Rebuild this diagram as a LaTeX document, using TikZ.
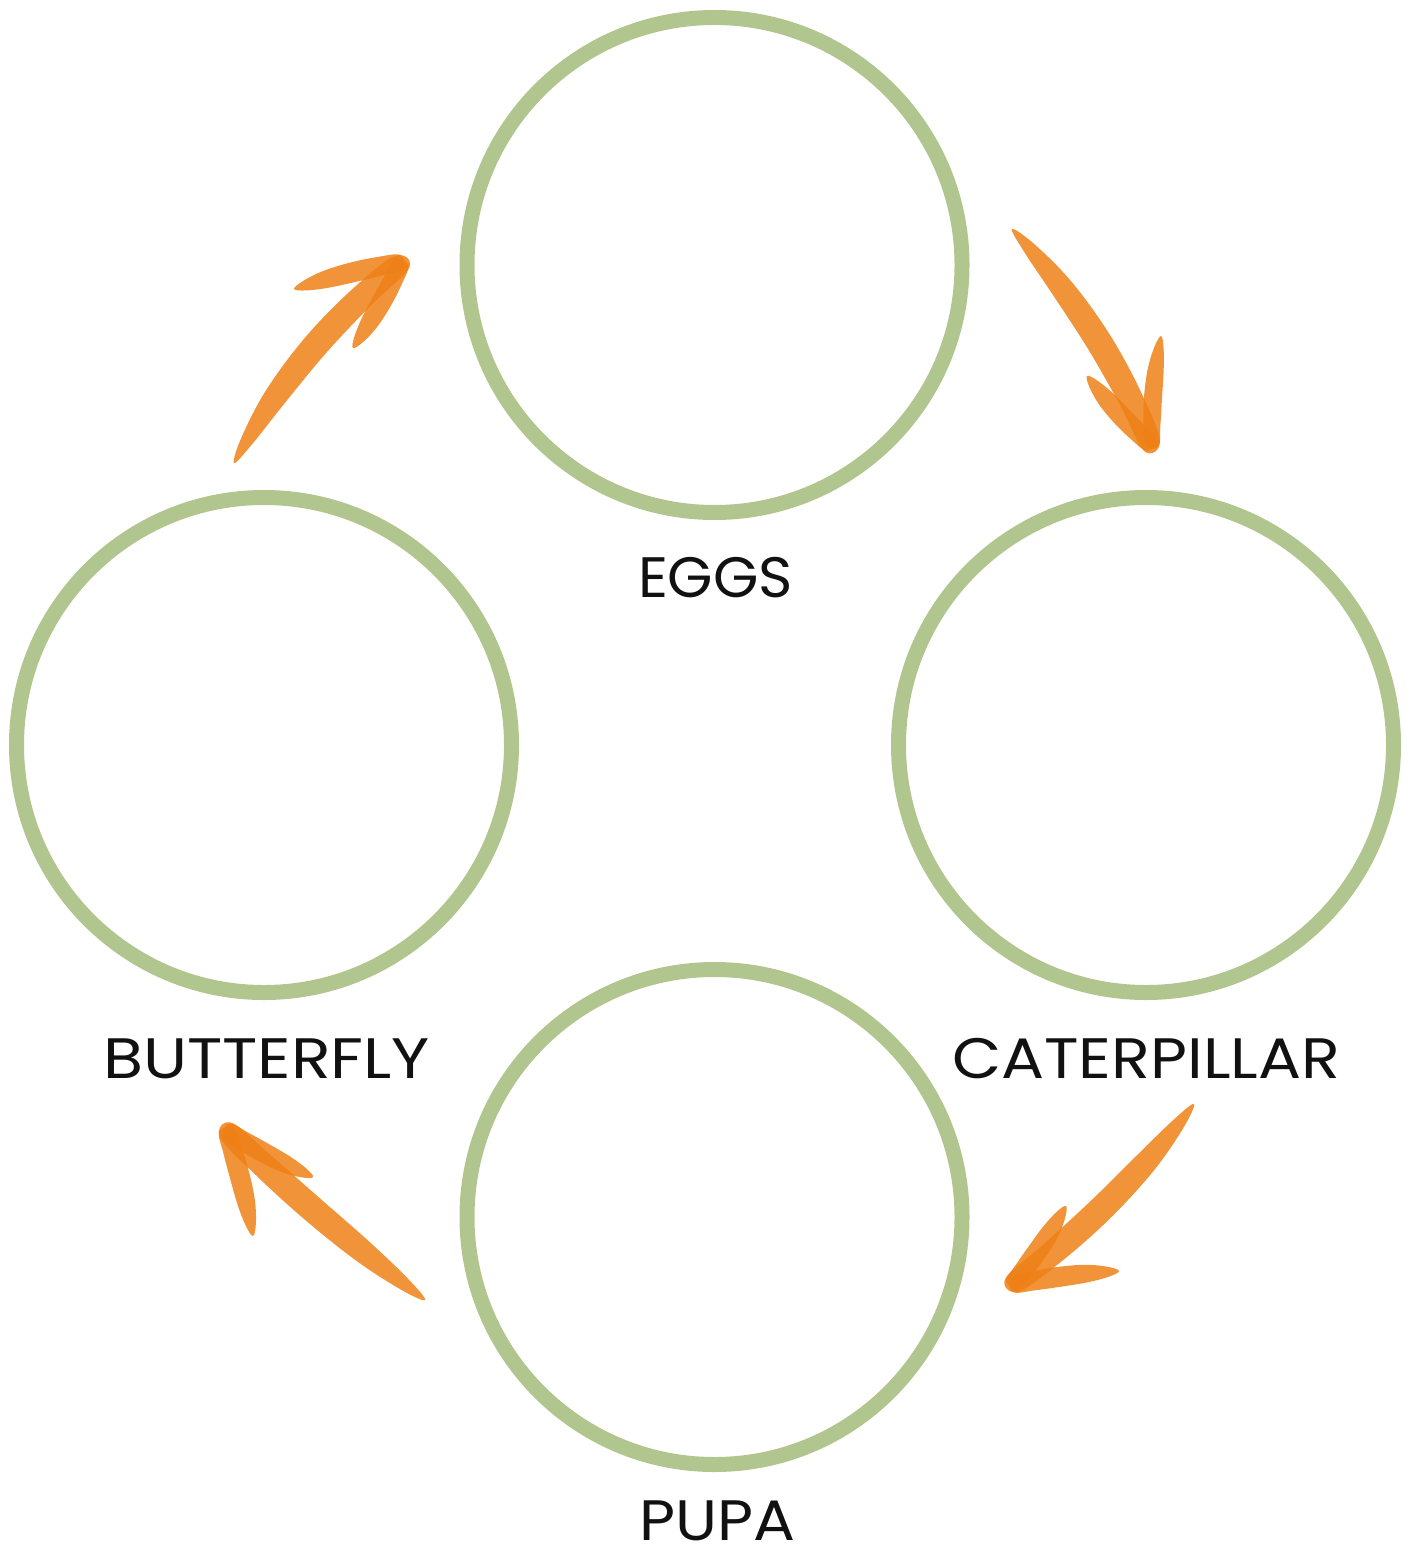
\documentclass[tikz,border=0pt]{standalone}
\usepackage{fontspec}
\usepackage{graphicx}
\setmainfont{Poppins}
\usetikzlibrary{calc}
\definecolor{ringgreen}{HTML}{B1C68F}
\definecolor{brushorange}{RGB}{238,128,22}
\definecolor{labelblack}{HTML}{111111}
\tikzset{
  ring/.style={circle,draw=ringgreen,line width=15pt,minimum size=495pt,inner sep=0pt},
  stage/.style={font=\fontsize{57}{60}\selectfont,text=labelblack,anchor=base,inner sep=0pt},
  brush/.style={fill=brushorange,fill opacity=0.85}
}
% tapered brush stroke: from, to, bend (mid offset), half width
\newcommand\brushstroke[4]{%
  \pgfmathsetmacro\pa{0.36*#3+0.5*#4}\pgfmathsetmacro\ma{0.36*#3-0.5*#4}%
  \pgfmathsetmacro\pb{0.84*#3+0.88*#4}\pgfmathsetmacro\mb{0.84*#3-0.88*#4}%
  \pgfmathsetmacro\pc{0.99*#3+1.0*#4}\pgfmathsetmacro\mc{0.99*#3-1.0*#4}%
  \pgfmathsetmacro\pd{0.64*#3+0.95*#4}\pgfmathsetmacro\md{0.64*#3-0.95*#4}%
  \pgfmathsetmacro\pe{0.72*#4}\pgfmathsetmacro\me{-0.72*#4}%
  \fill[brush] plot[smooth cycle,tension=0.6] coordinates {(#1)
    ($(#1)!0.1!(#2)!\pa pt!90:(#2)$) ($(#1)!0.3!(#2)!\pb pt!90:(#2)$)
    ($(#1)!0.55!(#2)!\pc pt!90:(#2)$) ($(#1)!0.8!(#2)!\pd pt!90:(#2)$)
    ($(#2)!\pe pt!-90:(#1)$) ($(#2)!\me pt!-90:(#1)$)
    ($(#1)!0.8!(#2)!\md pt!90:(#2)$) ($(#1)!0.55!(#2)!\mc pt!90:(#2)$)
    ($(#1)!0.3!(#2)!\mb pt!90:(#2)$) ($(#1)!0.1!(#2)!\ma pt!90:(#2)$)};}
\begin{document}
\begin{tikzpicture}[x=1pt,y=-1pt]
\useasboundingbox (0,0) rectangle (1410,1546);
% stages
\node[ring] (eggs) at (714.5,265) {};
\node[ring] (cat) at (1146,745) {};
\node[ring] (but) at (264,745) {};
\node[ring] (pupa) at (714.5,1217) {};
\node[stage] (leggs) at (715.5,597) {\resizebox{155pt}{\height}{EGGS}};
\node[stage] (lcat) at (1146,1078) {\resizebox{388pt}{\height}{CATERPILLAR}};
\node[stage] (lbut) at (266.5,1078) {\resizebox{327pt}{\height}{BUTTERFLY}};
\node[stage] (lpupa) at (717,1540) {\resizebox{156pt}{\height}{PUPA}};
% arrow 1: eggs -> caterpillar
\coordinate (a1t) at (1012,229);
\coordinate (a1h) at (1152,446);
\coordinate (a1l) at (1087,376);
\coordinate (a1r) at (1161,336);
\brushstroke{a1t}{a1h}{12}{13}
\brushstroke{a1l}{a1h}{-2}{10}
\brushstroke{a1r}{a1h}{-3}{9}
% arrow 2: caterpillar -> pupa
\coordinate (a2t) at (1194,1104);
\coordinate (a2h) at (1012,1285);
\coordinate (a2l) at (1066,1206);
\coordinate (a2r) at (1119,1271);
\brushstroke{a2t}{a2h}{9}{13}
\brushstroke{a2l}{a2h}{2}{10}
\brushstroke{a2r}{a2h}{-2}{10}
% arrow 3: pupa -> butterfly
\coordinate (a3t) at (425,1300);
\coordinate (a3h) at (226,1130);
\coordinate (a3l) at (253,1236);
\coordinate (a3r) at (313,1177);
\brushstroke{a3t}{a3h}{4}{13}
\brushstroke{a3l}{a3h}{-2}{10}
\brushstroke{a3r}{a3h}{2}{10}
% arrow 4: butterfly -> eggs
\coordinate (a4t) at (234,463);
\coordinate (a4h) at (402,262);
\coordinate (a4l) at (294,289);
\coordinate (a4r) at (353,348);
\brushstroke{a4t}{a4h}{13}{13}
\brushstroke{a4l}{a4h}{2}{10}
\brushstroke{a4r}{a4h}{-2}{10}
\end{tikzpicture}
\end{document}
